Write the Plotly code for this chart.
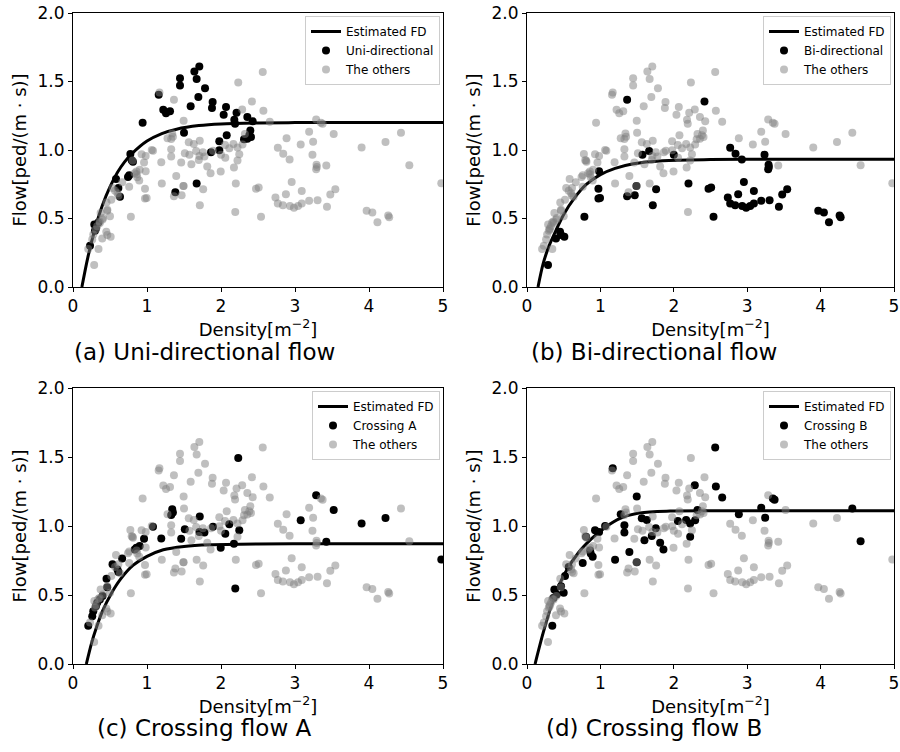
import plotly.graph_objects as go

# ---------------- data ----------------
uni_x = [1.707, 1.64, 1.671, 1.446, 1.446, 1.784, 1.158, 1.694, 1.887, 1.878, 1.59, 1.22, 1.257, 1.311,
         2.068, 2.036, 2.21, 2.18, 2.356, 2.428, 2.19, 0.941, 1.5, 2.077, 2.396, 2.383, 2.356, 2.311,
         2.405, 1.977, 1.977, 1.865, 0.775, 0.793, 0.81, 0.581, 0.743, 0.76, 0.613, 0.635, 1.383, 1.671,
         0.288, 0.342, 0.297, 0.31, 0.23]
uni_y = [1.609, 1.573, 1.519, 1.524, 1.471, 1.451, 1.403, 1.386, 1.35, 1.306, 1.32, 1.294, 1.269, 1.282,
         1.313, 1.257, 1.272, 1.221, 1.24, 1.209, 1.192, 1.199, 1.126, 1.107, 1.143, 1.107, 1.083, 1.078,
         1.095, 1.063, 0.998, 0.983, 0.971, 0.925, 0.915, 0.789, 0.803, 0.815, 0.723, 0.658, 0.692, 0.755,
         0.456, 0.471, 0.41, 0.427, 0.301]

bi_x = [1.364, 2.418, 1.573, 1.664, 2.0, 0.982, 0.973, 0.973, 0.995, 1.491, 1.364, 1.468, 1.759, 1.714,
        2.2, 2.473, 2.509, 2.541, 0.782, 0.45, 0.395, 0.509, 0.464, 0.286,
        2.768, 2.841, 2.927, 3.236, 3.291, 3.295, 3.286, 2.955, 3.091, 2.877, 2.736, 2.768, 2.836, 2.932,
        2.986, 3.041, 3.091, 3.191, 3.305, 3.432, 3.477, 3.545, 3.968, 4.045, 4.114, 4.259, 4.273]
bi_y = [1.367, 1.354, 0.966, 0.993, 0.966, 0.845, 0.718, 0.646, 0.65, 0.738, 0.663, 0.67, 0.714, 0.597,
        0.755, 0.718, 0.726, 0.512, 0.512, 0.403, 0.354, 0.366, 0.38, 0.16,
        1.017, 0.973, 0.93, 0.966, 0.893, 0.876, 0.859, 0.767, 0.701, 0.677, 0.653, 0.609, 0.597, 0.592,
        0.578, 0.592, 0.609, 0.629, 0.633, 0.585, 0.675, 0.714, 0.556, 0.544, 0.473, 0.522, 0.51]

crossA_x = [2.233, 1.341, 1.35, 1.327, 1.713, 1.081, 1.511, 1.892, 1.709, 1.776, 2.112, 2.058, 2.247,
            0.96, 1.193, 1.462, 0.901, 0.857, 0.834, 1.996, 2.175, 0.664, 0.534, 0.601, 0.614, 0.453,
            0.462, 0.399, 0.363, 0.327, 0.309, 0.274, 0.26, 0.206, 2.193,
            3.286, 3.523, 3.077, 3.9, 4.223, 3.423, 4.977]
crossA_y = [1.492, 1.121, 1.097, 1.08, 1.068, 0.995, 0.976, 0.995, 0.956, 0.952, 1.012, 0.944, 0.969,
            0.908, 0.91, 0.908, 0.855, 0.843, 0.83, 0.843, 0.872, 0.765, 0.722, 0.685, 0.666, 0.617,
            0.557, 0.492, 0.467, 0.443, 0.419, 0.383, 0.346, 0.278, 0.547,
            1.223, 1.116, 1.041, 1.019, 1.058, 0.886, 0.758]

crossB_x = [2.564, 1.168, 2.286, 2.573, 1.495, 1.277, 1.564, 1.632, 1.064, 0.982, 0.927, 1.327, 1.327,
            1.755, 1.7, 1.6, 1.814, 1.859, 2.055, 2.168, 2.223, 2.291, 2.323, 2.223, 0.805, 0.859, 0.868,
            0.895, 0.759, 1.2, 1.395, 1.495, 0.568, 0.518, 0.464, 0.5, 0.373, 0.405, 0.359, 0.345,
            2.659, 2.886, 3.191, 3.245, 3.35, 3.373, 4.432, 4.545]
crossB_y = [1.569, 1.419, 1.295, 1.286, 1.213, 1.085, 1.056, 1.044, 1.0, 0.956, 0.969, 1.005, 0.952,
            0.983, 0.927, 0.896, 0.879, 0.83, 1.036, 1.044, 1.019, 1.041, 1.116, 0.923, 0.923, 0.823, 0.801,
            0.777, 0.731, 0.755, 0.811, 0.738, 0.702, 0.637, 0.564, 0.516, 0.54, 0.504, 0.479, 0.278,
            1.206, 1.085, 1.133, 1.06, 1.199, 1.191, 1.126, 0.889]

# estimated fundamental diagrams
fd_a_x = [0.12, 0.2, 0.3, 0.4, 0.5, 0.6, 0.7, 0.8, 1.0, 1.2, 1.4, 1.7, 2.0, 2.5, 3.0, 5.0]
fd_a_y = [0.0, 0.215, 0.43, 0.60, 0.73, 0.835, 0.915, 0.975, 1.065, 1.12, 1.152, 1.178, 1.19, 1.197, 1.2, 1.2]
fd_b_x = [0.15, 0.22, 0.3, 0.4, 0.5, 0.64, 0.8, 1.0, 1.2, 1.45, 1.85, 2.5, 3.0, 5.0]
fd_b_y = [0.0, 0.17, 0.30, 0.42, 0.53, 0.645, 0.745, 0.82, 0.866, 0.9, 0.922, 0.93, 0.932, 0.932]
fd_c_x = [0.18, 0.25, 0.32, 0.4, 0.52, 0.65, 0.81, 1.0, 1.22, 1.5, 1.85, 2.5, 3.0, 5.0]
fd_c_y = [0.0, 0.15, 0.27, 0.385, 0.513, 0.62, 0.714, 0.78, 0.828, 0.852, 0.864, 0.87, 0.871, 0.871]
fd_d_x = [0.11, 0.22, 0.36, 0.52, 0.7, 0.88, 1.06, 1.27, 1.54, 1.95, 2.5, 3.0, 5.0]
fd_d_y = [0.0, 0.225, 0.467, 0.661, 0.806, 0.908, 0.988, 1.055, 1.095, 1.108, 1.11, 1.11, 1.11]

x_ticks = [0, 1, 2, 3, 4, 5]
y_ticks = [0.0, 0.5, 1.0, 1.5, 2.0]

group_names = ["Uni-directional", "Bi-directional", "Crossing A", "Crossing B"]
group_data = [(uni_x, uni_y), (bi_x, bi_y), (crossA_x, crossA_y), (crossB_x, crossB_y)]
fd_curves = [(fd_a_x, fd_a_y), (fd_b_x, fd_b_y), (fd_c_x, fd_c_y), (fd_d_x, fd_d_y)]
captions = ["(a) Uni-directional flow", "(b) Bi-directional flow",
            "(c) Crossing flow A", "(d) Crossing flow B"]

# ---------------- layout geometry ----------------
W, H = 900, 752
FONT = "DejaVu Sans"
x_domains = [(73 / W, 443 / W), (527 / W, 894 / W)]
y_domains = [(1 - 287 / H, 1 - 13 / H), (1 - 664 / H, 1 - 388 / H)]
caption_x = [204 / W, 654 / W]
caption_y = [1 - 352 / H, 1 - 728 / H]

fig = go.Figure()
layout = dict(
    width=W, height=H,
    margin=dict(l=0, r=0, t=0, b=0),
    paper_bgcolor="white", plot_bgcolor="white",
    font=dict(family=FONT, color="black", size=17),
    showlegend=True,
    annotations=[],
)

for i in range(4):
    row, col = divmod(i, 2)
    suffix = "" if i == 0 else str(i + 1)
    xa, ya = "x" + suffix, "y" + suffix
    leg = "legend" + suffix

    fx, fy = fd_curves[i]
    fig.add_trace(go.Scatter(
        x=fx, y=fy, mode="lines", name="Estimated FD",
        line=dict(color="black", width=3, shape="spline", smoothing=0.8),
        xaxis=xa, yaxis=ya, legend=leg))

    gx, gy = group_data[i]
    fig.add_trace(go.Scatter(
        x=gx, y=gy, mode="markers", name=group_names[i],
        marker=dict(color="black", size=8, line=dict(width=0)),
        xaxis=xa, yaxis=ya, legend=leg))

    ox, oy = [], []
    for j in range(4):
        if j != i:
            ox += group_data[j][0]
            oy += group_data[j][1]
    fig.add_trace(go.Scatter(
        x=ox, y=oy, mode="markers", name="The others",
        marker=dict(color="gray", size=8, opacity=0.5, line=dict(width=0)),
        xaxis=xa, yaxis=ya, legend=leg))

    xd, yd = x_domains[col], y_domains[row]
    axis_common = dict(
        showline=True, mirror=True, linecolor="black", linewidth=1,
        ticks="outside", ticklen=4, tickwidth=1, tickcolor="black",
        showgrid=False, zeroline=False, automargin=False,
        tickfont=dict(family=FONT, size=17, color="black"),
    )
    layout["xaxis" + suffix] = dict(
        axis_common, domain=list(xd), anchor=ya, range=[0, 5],
        tickvals=x_ticks, ticktext=[str(t) for t in x_ticks],
        title=dict(text="Density[m<sup>−2</sup>]", font=dict(family=FONT, size=18), standoff=2),
    )
    layout["yaxis" + suffix] = dict(
        axis_common, domain=list(yd), anchor=xa, range=[0, 2],
        tickvals=y_ticks, ticktext=["%.1f" % t for t in y_ticks],
        title=dict(text="Flow[ped/(m · s)]", font=dict(family=FONT, size=18), standoff=6),
    )
    layout[leg] = dict(
        x=xd[1] - 3 / W, y=yd[1] - 3 / H, xanchor="right", yanchor="top",
        bgcolor="rgba(255,255,255,0.8)", bordercolor="#cccccc", borderwidth=1,
        font=dict(family=FONT, size=12, color="black"),
        tracegroupgap=0, itemwidth=30,
    )
    layout["annotations"].append(dict(
        text=captions[i], xref="paper", yref="paper",
        x=caption_x[col], y=caption_y[row], xanchor="center", yanchor="middle",
        showarrow=False, font=dict(family=FONT, size=23, color="black")))

fig.update_layout(**layout)
fig.write_html("out.html")
